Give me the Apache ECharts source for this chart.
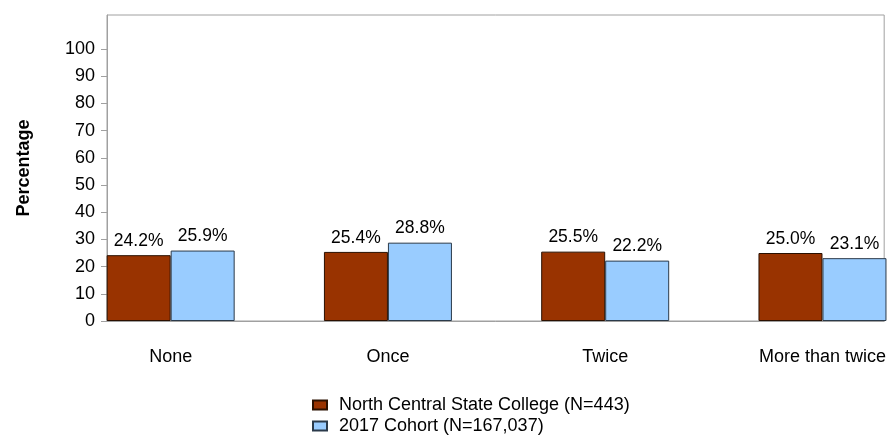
<!DOCTYPE html>
<html>
<head>
<meta charset="utf-8">
<script src="https://cdn.jsdelivr.net/npm/echarts@6/dist/echarts.min.js"></script>
<style>html,body{margin:0;padding:0;background:#fff}#c{width:889px;height:437px}</style>
</head>
<body>
<div id="c"></div>
<script>
var categories = ['None', 'Once', 'Twice', 'More than twice'];
var collegeName = 'North Central State College (N=443)';
var cohortName = '2017 Cohort (N=167,037)';
var collegeValues = [24.2, 25.4, 25.5, 25.0];
var cohortValues = [25.9, 28.8, 22.2, 23.1];
var yTicks = [0, 10, 20, 30, 40, 50, 60, 70, 80, 90, 100];

var font = 'Arial, "Liberation Sans", sans-serif';
function pts(vals) { return vals.map(function (v, i) { return [i, v]; }); }
function legendCfg(name, top) {
  return {
    orient: 'vertical', left: 312, top: top, itemWidth: 14, itemHeight: 9, itemGap: 0,
    icon: 'rect', padding: 0,
    textStyle: { fontFamily: font, fontSize: 18, color: '#000', padding: [0, 0, 0, 7] },
    data: [name]
  };
}
var labelCfg = {
  show: true, position: 'top', distance: 5,
  formatter: function (p) { return p.value[1].toFixed(1) + '%'; },
  color: '#000', fontFamily: font, fontSize: 17.5
};

var chart = echarts.init(document.getElementById('c'), null, { renderer: 'canvas' });
chart.setOption({
  animation: false,
  backgroundColor: '#fff',
  grid: { left: 107, right: 1, top: 15, bottom: 116, show: true, borderColor: '#a0a0a0', borderWidth: 1, backgroundColor: 'transparent' },
  xAxis: {
    type: 'value', min: -0.293, max: 3.284,
    axisLine: { show: true, onZero: false, lineStyle: { color: '#a0a0a0' } },
    axisTick: { show: false },
    splitLine: { show: false },
    axisLabel: {
      customValues: [0, 1, 2, 3],
      formatter: function (v) { return categories[Math.round(v)]; },
      color: '#000', fontFamily: font, fontSize: 18, margin: 27
    }
  },
  yAxis: {
    type: 'value', min: 0, max: 112.5, interval: 10,
    name: 'Percentage', nameLocation: 'middle', nameGap: 74,
    nameTextStyle: { fontFamily: font, fontSize: 18, fontWeight: 'bold', color: '#000' },
    axisLine: { show: true, onZero: false, lineStyle: { color: '#a0a0a0' } },
    axisTick: { show: true, customValues: yTicks, length: 6, lineStyle: { color: '#a0a0a0' } },
    splitLine: { show: false },
    axisLabel: { customValues: yTicks, color: '#000', fontFamily: font, fontSize: 18, margin: 12 }
  },
  legend: [legendCfg(collegeName, 396), legendCfg(cohortName, 417)],
  series: [
    {
      name: collegeName, type: 'bar', data: pts(collegeValues), barWidth: 64, barGap: '0%',
      itemStyle: { color: '#993300', borderColor: '#2a1000', borderWidth: 1 },
      label: labelCfg
    },
    {
      name: cohortName, type: 'bar', data: pts(cohortValues), barWidth: 64, barGap: '0%',
      itemStyle: { color: '#99ccff', borderColor: '#2b3a4a', borderWidth: 1 },
      label: labelCfg
    }
  ]
});
</script>
</body>
</html>
